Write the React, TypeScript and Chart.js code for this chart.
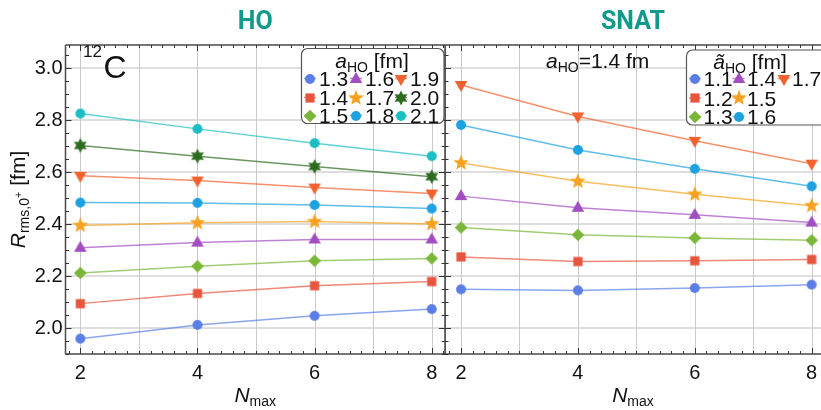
import React, { useEffect, useRef } from 'react';
import { Chart, registerables } from 'chart.js';

Chart.register(...registerables);

// ---------- data ----------
const nmax = [2, 4, 6, 8];
const xTicks = [2, 4, 6, 8];
const yTicks = [2.0, 2.2, 2.4, 2.6, 2.8, 3.0];

const hoLabels = ['1.3', '1.4', '1.5', '1.6', '1.7', '1.8', '1.9', '2.0', '2.1'];
const ho13 = [1.959, 2.012, 2.047, 2.073];
const ho14 = [2.094, 2.133, 2.163, 2.179];
const ho15 = [2.212, 2.238, 2.259, 2.268];
const ho16 = [2.309, 2.329, 2.341, 2.341];
const ho17 = [2.395, 2.405, 2.41, 2.401];
const ho18 = [2.483, 2.482, 2.474, 2.46];
const ho19 = [2.586, 2.568, 2.541, 2.518];
const ho20 = [2.703, 2.662, 2.622, 2.583];
const ho21 = [2.826, 2.767, 2.712, 2.662];
const hoSeries = [ho13, ho14, ho15, ho16, ho17, ho18, ho19, ho20, ho21];

const snatLabels = ['1.1', '1.2', '1.3', '1.4', '1.5', '1.6', '1.7'];
const sn11 = [2.149, 2.145, 2.154, 2.167];
const sn12 = [2.274, 2.256, 2.259, 2.264];
const sn13 = [2.387, 2.359, 2.347, 2.338];
const sn14 = [2.508, 2.463, 2.436, 2.406];
const sn15 = [2.636, 2.565, 2.515, 2.471];
const sn16 = [2.782, 2.686, 2.613, 2.546];
const sn17 = [2.936, 2.815, 2.721, 2.633];
const snatSeries = [sn11, sn12, sn13, sn14, sn15, sn16, sn17];

// ---------- styles ----------
const C_BLUE = '#5A7EE6';
const C_RED = '#E8553F';
const C_GREEN = '#7AB637';
const C_PURPLE = '#A24DC0';
const C_ORANGE = '#F8A11E';
const C_SKY = '#1EA1E0';
const C_VERM = '#F2622E';
const C_DKGREEN = '#2E6B21';
const C_TEAL = '#1DBEC2';

const hoColors = [C_BLUE, C_RED, C_GREEN, C_PURPLE, C_ORANGE, C_SKY, C_VERM, C_DKGREEN, C_TEAL];
const hoMarkers = ['circle', 'square', 'diamond', 'triUp', 'star5', 'circle', 'triDown', 'star6', 'circle'];
const snatColors = [C_BLUE, C_RED, C_GREEN, C_PURPLE, C_ORANGE, C_SKY, C_VERM];
const snatMarkers = ['circle', 'square', 'diamond', 'triUp', 'star5', 'circle', 'triDown'];

const FONT = '"Liberation Sans", Arial, Helvetica, sans-serif';
const TITLE_COLOR = '#119A8B';

function rgba(hex: string, a: number) {
  const n = parseInt(hex.slice(1), 16);
  return `rgba(${(n >> 16) & 255},${(n >> 8) & 255},${n & 255},${a})`;
}

function starPath(ctx: CanvasRenderingContext2D, n: number, ro: number, ri: number) {
  for (let i = 0; i < 2 * n; i++) {
    const r = i % 2 === 0 ? ro : ri;
    const a = -Math.PI / 2 + (i * Math.PI) / n;
    const px = r * Math.cos(a);
    const py = r * Math.sin(a);
    if (i === 0) ctx.moveTo(px, py);
    else ctx.lineTo(px, py);
  }
  ctx.closePath();
}

function makeMarker(shape: string, color: string): HTMLCanvasElement {
  const size = 20;
  const c = document.createElement('canvas');
  c.width = size;
  c.height = size;
  const ctx = c.getContext('2d')!;
  ctx.translate(size / 2, size / 2);
  ctx.fillStyle = color;
  ctx.beginPath();
  switch (shape) {
    case 'circle':
      ctx.arc(0, 0, 5, 0, Math.PI * 2);
      break;
    case 'square':
      ctx.rect(-4.6, -4.6, 9.2, 9.2);
      break;
    case 'diamond':
      ctx.moveTo(0, -6.3);
      ctx.lineTo(6.3, 0);
      ctx.lineTo(0, 6.3);
      ctx.lineTo(-6.3, 0);
      ctx.closePath();
      break;
    case 'triUp':
      ctx.moveTo(0, -7);
      ctx.lineTo(6.3, 4);
      ctx.lineTo(-6.3, 4);
      ctx.closePath();
      break;
    case 'triDown':
      ctx.moveTo(0, 7);
      ctx.lineTo(6.3, -4);
      ctx.lineTo(-6.3, -4);
      ctx.closePath();
      break;
    case 'star5':
      starPath(ctx, 5, 8.2, 3.5);
      break;
    case 'star6':
      starPath(ctx, 6, 7.4, 4.0);
      break;
  }
  ctx.fill();
  return c;
}

type Seg = { t: string; size: number; italic?: boolean; bold?: boolean; dy?: number; family?: string };

function segFont(s: Seg) {
  return `${s.italic ? 'italic ' : ''}${s.bold ? 'bold ' : ''}${s.size}px ${s.family || FONT}`;
}

function drawSegs(ctx: CanvasRenderingContext2D, segs: Seg[], x: number, y: number, align: 'left' | 'center') {
  ctx.textAlign = 'left';
  ctx.textBaseline = 'alphabetic';
  const widths = segs.map((s) => {
    ctx.font = segFont(s);
    return ctx.measureText(s.t).width;
  });
  const total = widths.reduce((a, b) => a + b, 0);
  let cx = align === 'center' ? x - total / 2 : x;
  segs.forEach((s, i) => {
    ctx.font = segFont(s);
    ctx.fillText(s.t, cx, y + (s.dy || 0));
    cx += widths[i];
  });
}

type LegendCfg = {
  box: [number, number, number, number];
  title: Seg[];
  titleX: number;
  titleY: number;
  cols: number[];
  rows: number[];
  textDx: number;
};

type PanelCfg = {
  title: string;
  frameSides: { left: boolean; right: boolean };
  legend: LegendCfg;
  labels: string[];
  colors: string[];
  markers: HTMLCanvasElement[];
  texts: (ctx: CanvasRenderingContext2D) => void;
  yAxisTitle: boolean;
};

function makeDeco(cfg: PanelCfg) {
  return {
    id: 'deco',
    beforeDatasetsDraw(chart: any) {
      const ctx: CanvasRenderingContext2D = chart.ctx;
      const { left, right, top, bottom } = chart.chartArea;
      const xs = chart.scales.x;
      const ys = chart.scales.y;
      ctx.save();
      ctx.strokeStyle = '#dedede';
      ctx.lineWidth = 2;
      yTicks.forEach((v) => {
        const py = Math.round(ys.getPixelForValue(v));
        ctx.beginPath();
        ctx.moveTo(left, py);
        ctx.lineTo(right, py);
        ctx.stroke();
      });
      ctx.strokeStyle = '#c9c9c9';
      ctx.lineWidth = 1;
      for (let v = 2; v <= 8; v++) {
        const px = Math.round(xs.getPixelForValue(v)) + 0.5;
        ctx.beginPath();
        ctx.moveTo(px, top);
        ctx.lineTo(px, bottom);
        ctx.stroke();
      }
      ctx.restore();
    },
    afterDatasetsDraw(chart: any) {
      const ctx: CanvasRenderingContext2D = chart.ctx;
      const { left, right, top, bottom } = chart.chartArea;
      const xs = chart.scales.x;
      const ys = chart.scales.y;
      ctx.save();
      ctx.strokeStyle = '#4a4a4a';
      ctx.lineWidth = 1.5;
      ctx.beginPath();
      ctx.moveTo(left, top);
      ctx.lineTo(right, top);
      ctx.moveTo(left, bottom);
      ctx.lineTo(right, bottom);
      if (cfg.frameSides.left) {
        ctx.moveTo(left, top);
        ctx.lineTo(left, bottom);
      }
      if (cfg.frameSides.right) {
        ctx.moveTo(right, top);
        ctx.lineTo(right, bottom);
      }
      ctx.stroke();
      ctx.lineWidth = 1;
      ctx.strokeStyle = '#333';
      ctx.beginPath();
      for (let k = 0; k <= 40; k++) {
        const v = 1.6 + k * 0.2;
        if (v < xs.min - 1e-9 || v > xs.max + 1e-9) continue;
        const major = Math.abs(v / 2 - Math.round(v / 2)) < 1e-6;
        const len = major ? 6 : 3;
        const px = Math.round(xs.getPixelForValue(v)) + 0.5;
        ctx.moveTo(px, bottom);
        ctx.lineTo(px, bottom - len);
        ctx.moveTo(px, top);
        ctx.lineTo(px, top + len);
      }
      for (let k = 0; k <= 30; k++) {
        const v = 1.9 + k * 0.05;
        if (v < ys.min - 1e-9 || v > ys.max + 1e-9) continue;
        const major = Math.abs(v / 0.2 - Math.round(v / 0.2)) < 1e-6;
        const len = major ? 6 : 3.5;
        const py = Math.round(ys.getPixelForValue(v)) + 0.5;
        if (cfg.frameSides.left) {
          ctx.moveTo(left, py);
          ctx.lineTo(left + len, py);
        }
        if (cfg.frameSides.right) {
          ctx.moveTo(right, py);
          ctx.lineTo(right - len, py);
        }
      }
      ctx.stroke();

      const L = cfg.legend;
      const [bx, by, bw, bh] = L.box;
      ctx.fillStyle = '#ffffff';
      ctx.strokeStyle = '#555555';
      ctx.lineWidth = 1.2;
      ctx.beginPath();
      (ctx as any).roundRect(bx, by, bw, bh, 6);
      ctx.fill();
      ctx.stroke();
      ctx.fillStyle = '#111';
      drawSegs(ctx, L.title, L.titleX, L.titleY, 'center');
      cfg.labels.forEach((lab, i) => {
        const col = Math.floor(i / 3);
        const row = i % 3;
        const mx = L.cols[col];
        const my = L.rows[row] - 7.5;
        ctx.strokeStyle = rgba(cfg.colors[i], 0.7);
        ctx.lineWidth = 1.5;
        ctx.beginPath();
        ctx.moveTo(mx - 6, my);
        ctx.lineTo(mx + 6, my);
        ctx.stroke();
        const m = cfg.markers[i];
        ctx.drawImage(m, Math.round(mx - m.width / 2), Math.round(my - m.height / 2));
        ctx.fillStyle = '#111';
        drawSegs(ctx, [{ t: lab, size: 21 }], mx + L.textDx, L.rows[row], 'left');
      });

      ctx.fillStyle = TITLE_COLOR;
      drawSegs(ctx, [{ t: cfg.title, size: 25, bold: true, family: 'Roboto, "Liberation Sans", sans-serif' }], (left + right) / 2, 28.5, 'center');

      ctx.fillStyle = '#111';
      drawSegs(ctx, [{ t: 'N', size: 21, italic: true }, { t: 'max', size: 14, dy: 4 }], (left + right) / 2, 402, 'center');

      if (cfg.yAxisTitle) {
        ctx.save();
        ctx.translate(25, (top + bottom) / 2);
        ctx.rotate(-Math.PI / 2);
        drawSegs(
          ctx,
          [
            { t: 'R', size: 21, italic: true },
            { t: 'rms,0', size: 14, dy: 4 },
            { t: '+', size: 11, dy: -3 },
            { t: ' [fm]', size: 21 },
          ],
          0,
          0,
          'center'
        );
        ctx.restore();
      }

      cfg.texts(ctx);
      ctx.restore();
    },
  };
}

function buildDatasets(series: number[][], labels: string[], colors: string[], markers: HTMLCanvasElement[]) {
  return series.map((vals, i) => ({
    label: labels[i],
    data: vals.map((y, j) => ({ x: nmax[j], y })),
    borderColor: rgba(colors[i], 0.7),
    backgroundColor: colors[i],
    borderWidth: 1.5,
    pointStyle: markers[i] as any,
    pointRadius: 8,
    pointHoverRadius: 8,
    tension: 0,
  }));
}

function makeOptions(xmin: number, xmax: number, showY: boolean, padRight: number) {
  return {
    responsive: false,
    animation: false as const,
    devicePixelRatio: 1,
    layout: { autoPadding: false, padding: { top: 45, right: padRight, left: 0, bottom: 0 } },
    plugins: { legend: { display: false }, tooltip: { enabled: false }, title: { display: false } },
    scales: {
      x: {
        type: 'linear' as const,
        min: xmin,
        max: xmax,
        afterBuildTicks: (scale: any) => {
          scale.ticks = xTicks.map((v) => ({ value: v }));
        },
        afterFit: (scale: any) => {
          scale.height = 56;
          scale.paddingLeft = 0;
          scale.paddingRight = 0;
        },
        grid: { display: false, drawTicks: false },
        border: { display: false },
        ticks: {
          font: { family: FONT, size: 20 },
          color: '#111',
          padding: 7,
          maxRotation: 0,
          autoSkip: false,
          callback: (v: any) => String(v),
        },
      },
      y: {
        type: 'linear' as const,
        display: showY,
        min: 1.9,
        max: 3.09,
        afterBuildTicks: (scale: any) => {
          scale.ticks = yTicks.map((v) => ({ value: v }));
        },
        afterFit: (scale: any) => {
          scale.width = showY ? 65.5 : 0;
          scale.paddingTop = 0;
          scale.paddingBottom = 0;
        },
        grid: { display: false, drawTicks: false },
        border: { display: false },
        ticks: {
          display: showY,
          font: { family: FONT, size: 20 },
          color: '#111',
          padding: 3,
          autoSkip: false,
          callback: (v: any) => Number(v).toFixed(1),
        },
      },
    },
  };
}

export default function App() {
  const leftRef = useRef<HTMLCanvasElement>(null);
  const rightRef = useRef<HTMLCanvasElement>(null);

  useEffect(() => {
    const hoM = hoMarkers.map((s, i) => makeMarker(s, hoColors[i]));
    const snM = snatMarkers.map((s, i) => makeMarker(s, snatColors[i]));

    const leftCfg: PanelCfg = {
      title: 'HO',
      frameSides: { left: true, right: true },
      legend: {
        box: [301.5, 48.5, 142.5, 75],
        title: [
          { t: 'a', size: 21, italic: true },
          { t: 'HO', size: 14, dy: 4 },
          { t: ' [fm]', size: 21 },
        ],
        titleX: 372,
        titleY: 68,
        cols: [310, 356, 401],
        rows: [86, 105, 123],
        textDx: 9,
      },
      labels: hoLabels,
      colors: hoColors,
      markers: hoM,
      yAxisTitle: true,
      texts: (ctx) => {
        ctx.fillStyle = '#111';
        drawSegs(ctx, [{ t: '12', size: 17 }], 83, 57, 'left');
        drawSegs(ctx, [{ t: 'C', size: 32 }], 103.5, 78, 'left');
      },
    };

    const rightCfg: PanelCfg = {
      title: 'SNAT',
      frameSides: { left: true, right: false },
      legend: {
        box: [241.5, 50, 140, 75],
        title: [
          { t: '\u00e3', size: 21, italic: true },
          { t: 'HO', size: 14, dy: 4 },
          { t: ' [fm]', size: 21 },
        ],
        titleX: 305,
        titleY: 69,
        cols: [250, 293.5, 338.5],
        rows: [86, 105.5, 124],
        textDx: 8.5,
      },
      labels: snatLabels,
      colors: snatColors,
      markers: snM,
      yAxisTitle: false,
      texts: (ctx) => {
        ctx.fillStyle = '#111';
        drawSegs(
          ctx,
          [
            { t: 'a', size: 21, italic: true },
            { t: 'HO', size: 14, dy: 4.5 },
            { t: '=1.4 fm', size: 21 },
          ],
          101,
          67.5,
          'left'
        );
      },
    };

    const left = new Chart(leftRef.current!, {
      type: 'line',
      data: { datasets: buildDatasets(hoSeries, hoLabels, hoColors, hoM) as any },
      options: makeOptions(1.747, 8.227, true, 1) as any,
      plugins: [makeDeco(leftCfg)],
    });
    const right = new Chart(rightRef.current!, {
      type: 'line',
      data: { datasets: buildDatasets(snatSeries, snatLabels, snatColors, snM) as any },
      options: makeOptions(1.726, 8.16, false, 0) as any,
      plugins: [makeDeco(rightCfg)],
    });
    return () => {
      left.destroy();
      right.destroy();
    };
  }, []);

  return (
    <div style={{ position: 'absolute', left: 0, top: 0, width: 821, height: 410, background: '#fff' }}>
      <canvas ref={leftRef} width={446} height={410} style={{ position: 'absolute', left: 0, top: 0, width: 446, height: 410 }} />
      <canvas ref={rightRef} width={376} height={410} style={{ position: 'absolute', left: 445, top: 0, width: 376, height: 410 }} />
    </div>
  );
}
